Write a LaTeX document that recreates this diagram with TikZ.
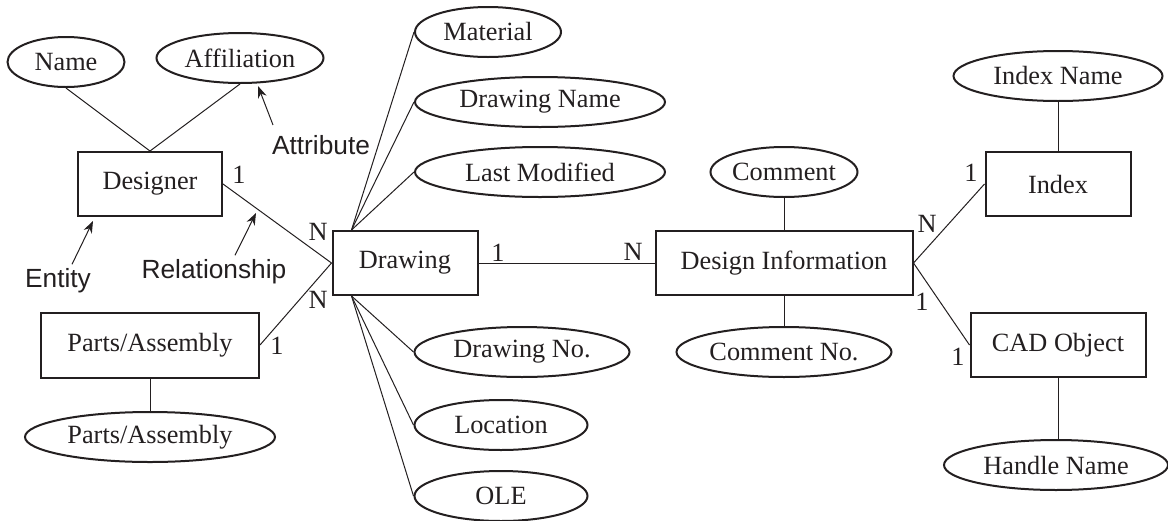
\documentclass[tikz,border=0pt]{standalone}
\usepackage{fontspec}
\setmainfont{Liberation Serif}
\setsansfont{Liberation Sans}
\usepackage{xcolor}
\usepackage{tikz}
\usetikzlibrary{arrows.meta,shapes.geometric}
\definecolor{figInk}{HTML}{231F20}

\begin{document}
\begin{tikzpicture}[
  x=0.5pt, y=-0.5pt,
  every node/.style={font=\fontsize{13.15}{15}\selectfont, text=figInk},
  entity/.style={
    rectangle, draw=figInk, line width=1pt, inner sep=0pt,
    minimum width=#1, minimum height=32pt
  },
  attr/.style={
    ellipse, draw=figInk, line width=1pt, inner sep=0pt,
    minimum width=#1, minimum height=25pt
  },
  link/.style={line width=0.5pt, figInk},
  card/.style={inner sep=0pt},
  note/.style={font=\fontsize{13.15}{15}\selectfont\sffamily, inner sep=1pt},
  pointer/.style={-{Stealth[length=6pt,width=4.5pt]}, line width=0.5pt, figInk},
]
\useasboundingbox (0,0) rectangle (1168,520);

% === Entities ===
\node[entity=72pt] (designer) at (150,184) {Designer};
\node[entity=109pt, minimum height=32.5pt] (parts) at (150,345) {Parts/Assembly};
\node[entity=72.5pt] (drawing) at (405,263) {Drawing};
\node[entity=128.5pt] (design) at (784,263) {Design Information};
\node[entity=72.5pt] (index) at (1058,184) {Index};
\node[entity=87.5pt] (cad) at (1058,345) {CAD Object};

% === Attributes ===
\node[attr=58.5pt] (name) at (66,62) {Name};
\node[attr=83.5pt] (affil) at (240,58) {Affiliation};
\node[attr=125pt] (partsattr) at (150,437) {Parts/Assembly};
\node[attr=73pt] (material) at (488,32) {Material};
\node[attr=125pt] (dwgname) at (540,102) {Drawing Name};
\node[attr=125pt] (lastmod) at (540,172) {Last Modified};
\node[attr=107.5pt] (dwgno) at (522,352) {Drawing No.};
\node[attr=86.5pt] (location) at (501,425) {Location};
\node[attr=86.5pt] (ole) at (501,496) {OLE};
\node[attr=73.5pt] (comment) at (784,172) {Comment};
\node[attr=107.5pt] (commentno) at (784,352) {Comment No.};
\node[attr=104.5pt] (indexname) at (1058,76) {Index Name};
\node[attr=112pt] (handle) at (1056,465) {Handle Name};

% === Attribute links ===
\draw[link] (name.south) -- (designer.north);
\draw[link] (affil.south) -- (designer.north);
\draw[link] (parts.south) -- (partsattr.north);
\foreach \a in {material,dwgname,lastmod}
  \draw[link] ([xshift=10pt]drawing.north west) -- (\a.west);
\foreach \a in {dwgno,location,ole}
  \draw[link] ([xshift=10pt]drawing.south west) -- (\a.west);
\draw[link] (comment.south) -- (design.north);
\draw[link] (design.south) -- (commentno.north);
\draw[link] (indexname.south) -- (index.north);
\draw[link] (cad.south) -- (cad.south |- handle.north);

% === Relationships with cardinalities ===
\draw[link] (designer.east) -- (drawing.west);
\node[card] (c1) at (239,175) {1};
\node[card] (c2) at (318,232) {N};
\draw[link] (parts.east) -- (drawing.west);
\node[card] (c3) at (318,300) {N};
\node[card] (c4) at (277,346) {1};
\draw[link] (drawing.east) -- (design.west);
\node[card] (c5) at (498,253) {1};
\node[card] (c6) at (633,252) {N};
\draw[link] (design.east) -- (index.west);
\node[card] (c7) at (927,224) {N};
\node[card] (c8) at (971,173) {1};
\draw[link] (design.east) -- (cad.west);
\node[card] (c9) at (922,302) {1};
\node[card] (c10) at (958,357) {1};

% === Annotations ===
\node[note] (attrlbl) at (321,145) {Attribute};
\coordinate (attrtip) at (258,86);
\draw[pointer] ([xshift=-24pt,yshift=4pt]attrlbl.north) -- (attrtip);
\node[note] (entlbl) at (58,281) {Entity};
\coordinate (enttip) at (93,221);
\draw[pointer] ([xshift=7pt,yshift=1pt]entlbl.north) -- (enttip);
\node[note] (rellbl) at (214,272) {Relationship};
\coordinate (reltip) at (256,213);
\draw[pointer] ([xshift=10.5pt,yshift=1pt]rellbl.north) -- (reltip);

\end{tikzpicture}
\end{document}
